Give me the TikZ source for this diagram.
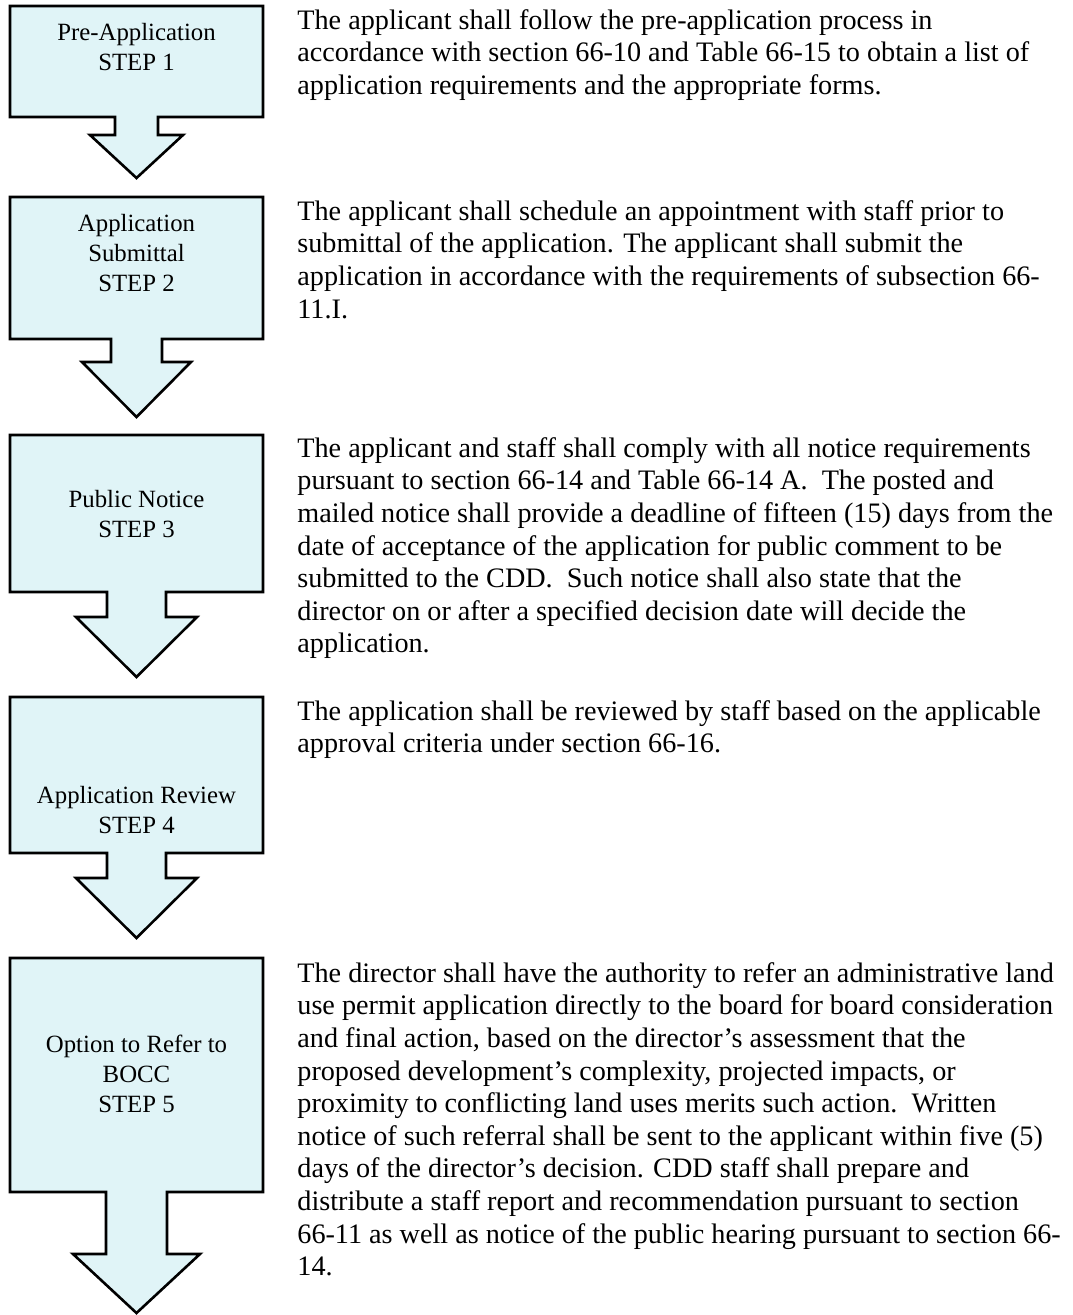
\documentclass[tikz,border=0pt]{standalone}
\usepackage{fontspec}
\setmainfont{Liberation Serif}
\definecolor{calloutfill}{HTML}{E0F4F7}
\begin{document}
\begin{tikzpicture}[x=0.5pt,y=-0.5pt,
  callout/.style={draw=black,fill=calloutfill,line width=1.3pt,line join=miter},
  steplabel/.style={align=center,font=\fontsize{12.4pt}{15pt}\selectfont,inner sep=0pt},
  bodytext/.style={align=left,anchor=north west,font=\fontsize{14.1pt}{16.3pt}\selectfont,inner sep=0pt}]
\useasboundingbox (0,0) rectangle (1072,1315);

% #1 top, #2 bottom, #3 shaft left, #4 shaft right, #5 head top, #6 wing left, #7 wing right, #8 tip
\newcommand\stepcallout[8]{%
  \draw[callout] (10,#1) -- (263,#1) -- (263,#2) -- (#4,#2) -- (#4,#5) -- (#7,#5)
    -- (136.5,#8) -- (#6,#5) -- (#3,#5) -- (#3,#2) -- (10,#2) -- cycle;}

\stepcallout{6}{117}{115}{158}{135}{90}{183}{178}
\stepcallout{197}{339}{111}{162}{362}{82}{191}{417}
\stepcallout{435}{592}{107}{166}{617}{76}{197}{677}
\stepcallout{697}{853}{107}{166}{878}{76}{197}{938}
\stepcallout{958}{1192}{106}{167}{1254}{73}{200}{1313}

% step labels
\node[steplabel] (s1) at (136.5,47) {Pre-Application\\STEP 1};
\node[steplabel] (s2) at (136.5,253) {Application\\Submittal\\STEP 2};
\node[steplabel] (s3) at (136.5,514) {Public Notice\\STEP 3};
\node[steplabel] (s4) at (136.5,810) {Application Review\\STEP 4};
\node[steplabel] (s5) at (136.5,1074) {Option to Refer to\\BOCC\\STEP 5};

% descriptions
\node[bodytext] (d1) at (297,9) {The applicant shall follow the pre-application process in\\
accordance with section 66-10 and Table 66-15 to obtain a list of\\
application requirements and the appropriate forms.};
\node[bodytext] (d2) at (297,200) {The applicant shall schedule an appointment with staff prior to\\
submittal of the application. The applicant shall submit the\\
application in accordance with the requirements of subsection 66-\\
11.I.};
\node[bodytext] (d3) at (297,437) {The applicant and staff shall comply with all notice requirements\\
pursuant to section 66-14 and Table 66-14 A.\ \ The posted and\\
mailed notice shall provide a deadline of fifteen (15) days from the\\
date of acceptance of the application for public comment to be\\
submitted to the CDD.\ \ Such notice shall also state that the\\
director on or after a specified decision date will decide the\\
application.};
\node[bodytext] (d4) at (297,700) {The application shall be reviewed by staff based on the applicable\\
approval criteria under section 66-16.};
\node[bodytext] (d5) at (297,962) {The director shall have the authority to refer an administrative land\\
use permit application directly to the board for board consideration\\
and final action, based on the director’s assessment that the\\
proposed development’s complexity, projected impacts, or\\
proximity to conflicting land uses merits such action.\ \ Written\\
notice of such referral shall be sent to the applicant within five (5)\\
days of the director’s decision. CDD staff shall prepare and\\
distribute a staff report and recommendation pursuant to section\\
66-11 as well as notice of the public hearing pursuant to section 66-\\
14.};
\end{tikzpicture}
\end{document}
